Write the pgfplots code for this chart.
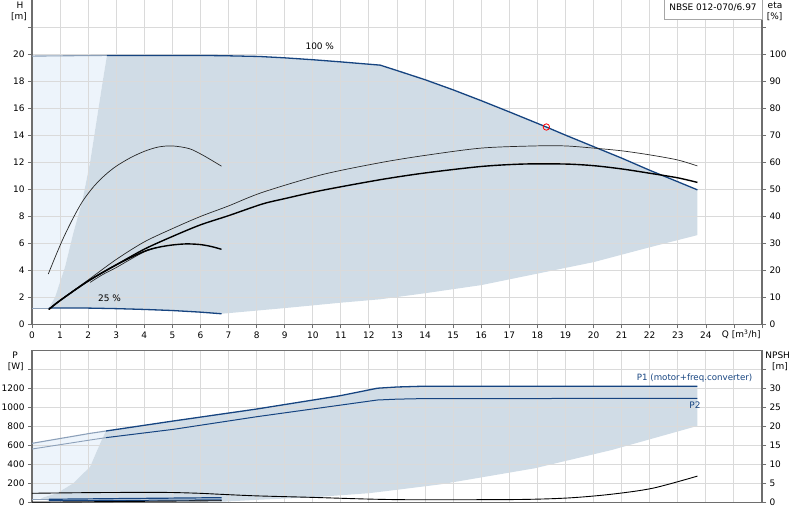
\documentclass[border=0pt]{standalone}
\usepackage{fontspec}
\setmainfont{DejaVu Sans}
\usepackage{pgfplots}
\pgfplotsset{compat=1.18}

\definecolor{shade}{RGB}{208,220,230}
\definecolor{shadelight}{RGB}{237,244,251}
\definecolor{gblue}{RGB}{22,68,128}
\definecolor{gbluelight}{RGB}{140,160,185}
\definecolor{gridc}{RGB}{218,218,218}
\definecolor{axisc}{RGB}{110,110,110}
\definecolor{curvec}{RGB}{40,40,40}

\pgfplotsset{
  base/.style={
    scale only axis, width=730bp, xmin=0, xmax=26,
    ticklabel style={font=\fontsize{9}{10}\selectfont, text=black},
    axis line style={-, axisc, line width=1.4bp},
    tick style={axisc, line width=0.7bp},
    tick align=outside, major tick length=4bp,
    clip=false,
  },
  gridded/.style={
    grid=major, major grid style={gridc, line width=0.9bp}, axis on top,
  },
}

\begin{document}
\begin{tikzpicture}
\useasboundingbox (0,0) rectangle (800bp,-520bp);

%% ---------- H / eta diagram ----------
\begin{axis}[base, gridded, at={(32bp,-324.3bp)}, anchor=south west, height=324.3bp,
  ymin=0, ymax=24, axis x line*=bottom, axis y line*=left,
  xtick={0,...,26},
  xticklabels={0,1,2,3,4,5,6,7,8,9,10,11,12,13,14,15,16,17,18,19,20,21,22,23,24,{},{}},
  ytick={0,2,...,22}, yticklabels={0,2,4,6,8,10,12,14,16,18,20,{}}]
  % region left of the minimum curve
  \addplot[draw=none, fill=shadelight] coordinates {
    (0,1.2) (0.6,1.2) (0.82,2) (1.18,4.27) (1.47,6.74) (1.8,9.2) (2.07,12)
    (2.22,14) (2.37,16) (2.52,18) (2.67,19.9) (0,19.85)} -- cycle;
  % operating range
  \addplot[draw=none, fill=shade] coordinates {
    (0.6,1.2) (0.82,2) (1.18,4.27) (1.47,6.74) (1.8,9.2) (2.07,12)
    (2.22,14) (2.37,16) (2.52,18) (2.67,19.9)
    (4,19.9) (6,19.9) (7,19.87) (8.1,19.82) (9,19.72) (10,19.58) (11,19.42)
    (12.4,19.18) (13,18.78) (14,18.1) (15,17.35) (16,16.55) (17,15.72)
    (18.32,14.6) (19,14.0) (20,13.15) (21,12.3) (22,11.4) (23,10.55) (23.7,9.95)
    (23.7,6.6) (22,5.7) (20,4.6) (18,3.75) (16,2.9) (14,2.3) (12.4,1.85)
    (11,1.6) (9,1.2) (6.75,0.78)
    (6,0.9) (5,1.02) (4,1.1) (3,1.16) (2,1.2)} -- cycle;
\end{axis}

\begin{axis}[base, hide axis, at={(32bp,-324.3bp)}, anchor=south west, height=324.3bp,
  ymin=0, ymax=24]
  % 100 % speed
  \addplot[gbluelight, line width=1.1bp] coordinates {(0,19.85) (2.67,19.9)};
  \addplot[gblue, line width=1.3bp] coordinates {
    (2.67,19.9) (4,19.9) (6,19.9) (7,19.87) (8.1,19.82) (9,19.72) (10,19.58)
    (11,19.42) (12.4,19.18) (13,18.78) (14,18.1) (15,17.35) (16,16.55)
    (17,15.72) (18.32,14.6) (19,14.0) (20,13.15) (21,12.3) (22,11.4)
    (23,10.55) (23.7,9.95)};
  % 25 % speed
  \addplot[gbluelight, line width=1.1bp] coordinates {(0,1.2) (0.6,1.2)};
  \addplot[gblue, line width=1.3bp] coordinates {
    (0.6,1.2) (2,1.2) (3,1.16) (4,1.1) (5,1.02) (6,0.9) (6.75,0.78)};
  % duty point
  \addplot[red, only marks, mark=o, mark size=3.2bp, line width=0.8bp,
    mark options={fill=white}] coordinates {(18.32,14.6)};
  \node[font=\fontsize{9}{10}\selectfont] at (axis cs:10.25,20.6) {100 \%};
  \node[font=\fontsize{9}{10}\selectfont] at (axis cs:2.76,1.9) {25 \%};
\end{axis}

\begin{axis}[base, at={(32bp,-324.3bp)}, anchor=south west, height=324.3bp,
  ymin=0, ymax=120, axis x line=none, axis y line*=right,
  ytick={0,10,...,110}, yticklabels={0,10,20,30,40,50,60,70,80,90,100,{}}]
  % efficiency curves [%]
  \addplot[curvec, line width=0.7bp, smooth] coordinates {
    (0.58,18.6) (0.85,25.5) (1.12,32) (1.45,39) (1.8,45.5) (2.2,51)
    (2.6,55.2) (3.0,58.5) (3.5,61.6) (4.0,64) (4.5,65.6) (5.0,66) (5.6,65)
    (6.1,62.5) (6.75,58.5)};
  \addplot[curvec, line width=0.7bp, smooth] coordinates {
    (0.6,5.5) (1,8.9) (2,16.4) (3,24) (4,30.5) (5,35.4) (6,39.9) (7,43.8)
    (8.2,48.8) (10.3,55.3) (12.4,59.8) (14,62.5) (16,65.2) (17.9,66) (19,66)
    (20,65.2) (21,64.2) (22,62.7) (23,60.8) (23.7,58.6)};
  \addplot[black, line width=1.4bp, smooth] coordinates {
    (0.6,5.5) (1,8.8) (2,16) (3,22) (4,27.8) (5,32.5) (6,36.8) (7,40.2)
    (8.2,44.5) (9,46.5) (10.3,49.5) (12.4,53.5) (14,56) (16,58.4) (17.5,59.3)
    (19,59.3) (20,58.7) (21,57.5) (22,55.9) (23,54.2) (23.7,52.5)};
  \addplot[curvec, line width=0.7bp, smooth] coordinates {
    (2.07,15.5) (2.5,18.3) (3,21) (3.5,24) (4,26.8) (4.5,28.5)};
  \addplot[black, line width=1.4bp, smooth] coordinates {
    (0.6,5.5) (1,8.8) (2,16) (3,22) (4,27) (4.5,28.5) (5,29.35) (5.5,29.75)
    (6,29.5) (6.4,28.75) (6.75,27.75)};
\end{axis}

%% ---------- P / NPSH diagram ----------
\begin{axis}[base, gridded, at={(32bp,-502.7bp)}, anchor=south west, height=152bp,
  ymin=0, ymax=1600,
  xtick={0,...,26}, xticklabels={}, xtick style={draw=none},
  ytick={0,200,...,1400}, yticklabels={0,200,400,600,800,1000,1200,{}}]
  \addplot[draw=none, fill=shadelight] coordinates {
    (0,36) (0.3,46) (0.88,99) (1.47,204) (2.07,379) (2.48,660) (2.64,755)
    (2.07,730) (0,625)} -- cycle;
  \addplot[draw=none, fill=shade] coordinates {
    (0.3,46) (0.88,99) (1.47,204) (2.07,379) (2.48,660) (2.64,755)
    (5.03,860) (8,986) (10.97,1126) (12.3,1205) (13,1218) (13.8,1225) (23.7,1225)
    (23.7,808) (22,667) (20.65,555) (17.9,362) (14.57,194) (13.14,141) (12,100)
    (10,57) (8,30) (6.75,10) (0.6,20)} -- cycle;
\end{axis}

\begin{axis}[base, hide axis, at={(32bp,-502.7bp)}, anchor=south west, height=152bp,
  ymin=0, ymax=1600]
  % P1
  \addplot[gbluelight, line width=1.1bp] coordinates {(0,625) (2.07,730) (2.64,755)};
  \addplot[gblue, line width=1.3bp] coordinates {
    (2.64,755) (5.03,860) (8,986) (10.97,1126) (12.3,1205) (13,1218)
    (13.8,1225) (23.7,1225)};
  % P2
  \addplot[gbluelight, line width=0.9bp] coordinates {(0,565) (2.07,660) (2.64,685)};
  \addplot[gblue, line width=1bp] coordinates {
    (2.64,685) (5.03,772) (8,905) (12.3,1081) (13,1090) (13.8,1095) (23.7,1099)};
  % 25 % speed
  \addplot[gbluelight, line width=1bp] coordinates {(0,36) (0.6,36)};
  \addplot[gblue, line width=1.2bp] coordinates {(0.6,36) (3,43) (6.75,53)};
  \addplot[gblue, line width=1bp] coordinates {(0.6,21) (3,24) (6.75,30)};
\end{axis}

\begin{axis}[base, at={(32bp,-502.7bp)}, anchor=south west, height=152bp,
  ymin=0, ymax=40, axis x line=none, axis y line*=right,
  ytick={0,5,...,35}, yticklabels={0,5,10,15,20,25,30,{}}]
  % NPSH [m]
  \addplot[black, line width=0.9bp, smooth] coordinates {
    (0,2.48) (2,2.65) (4,2.72) (5,2.68) (6,2.47) (6.75,2.2) (8,1.8) (9.9,1.42)
    (11.9,0.97) (13.14,0.8) (14.57,0.78) (17.4,0.85) (19.1,1.25) (20.6,2.2)
    (22.1,3.8) (23.7,7.0)};
  \addplot[black, line width=0.9bp] coordinates {(0,0.17) (0.6,0.17) (6.75,0.53)};
\end{axis}

%% ---------- texts ----------
\begin{scope}[font=\fontsize{9}{10}\selectfont]
  \node at (20bp,-5bp) {H};
  \node at (19bp,-16.7bp) {[m]};
  \node at (775bp,-5bp) {eta};
  \node at (774.7bp,-16.7bp) {[\%]};
  \node[anchor=west, inner sep=0pt] at (721.7bp,-334.3bp) {Q [m\textsuperscript{3}/h]};
  \node at (15bp,-355bp) {P};
  \node at (15.7bp,-366.7bp) {[W]};
  \node at (777.7bp,-355bp) {NPSH};
  \node at (780bp,-366.7bp) {[m]};
\end{scope}
\node[anchor=west, inner sep=0pt, text=gblue, font=\fontsize{8.7}{10}\selectfont]
  at (636.7bp,-377.7bp) {P1 (motor+freq.converter)};
\node[text=gblue, font=\fontsize{9}{10}\selectfont] at (695bp,-405bp) {P2};
\draw[fill=white, draw=gray!70, line width=0.8bp] (664bp,1bp) rectangle (762bp,-19.3bp);
\node[font=\fontsize{9}{10}\selectfont] at (713bp,-7.6bp) {NBSE 012-070/6.97};
\end{tikzpicture}
\end{document}
